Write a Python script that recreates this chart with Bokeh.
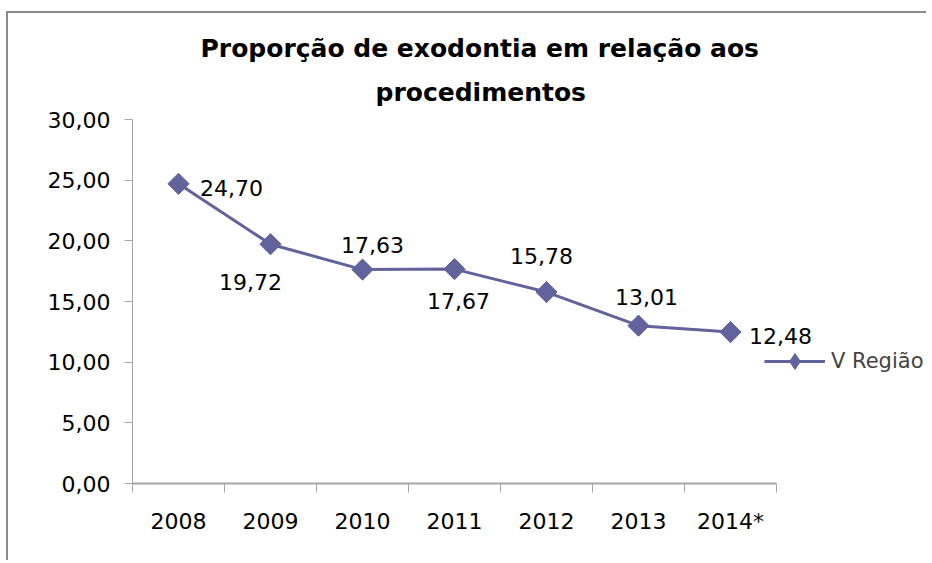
import math
from bokeh.plotting import figure
from bokeh.models import (FixedTicker, Range1d, Title, Legend, LegendItem,
                          ColumnDataSource, LabelSet)
from bokeh.core.properties import value
from bokeh.embed import file_html
from bokeh.resources import INLINE

# ---- data ----
categories = ["2008", "2009", "2010", "2011", "2012", "2013", "2014*"]
values = [24.70, 19.72, 17.63, 17.67, 15.78, 13.01, 12.48]
value_labels = ["24,70", "19,72", "17,63", "17,67", "15,78", "13,01", "12,48"]
y_ticks = [0, 5, 10, 15, 20, 25, 30]
y_tick_labels = ["0,00", "5,00", "10,00", "15,00", "20,00", "25,00", "30,00"]
series_name = "V Região"
title_line1 = "Proporção de exodontia em relação aos"
title_line2 = "procedimentos"

# ---- styles / layout ----
LINE_COLOR = "#62629C"
AXIS_COLOR = "#a6a6a6"
FONT = "DejaVu Sans"
FIG_W, FIG_H = 920, 549
BORDER_L, BORDER_T, BORDER_B = 124, 106, 79
AXIS_PX = 644                      # pixel length of the category axis
FRAME_PX = FIG_W - BORDER_L        # frame reaches the right edge (room for legend/labels)
# label offsets (screen px) of each label centre from its point; dy positive = down
label_dx = [53, -20, 10, 4, -5, 8, 50]
label_dy = [4, 38, -25, 32, -36, -29, 4]

n = len(categories)
xs = [i + 0.5 for i in range(n)]

p = figure(width=FIG_W, height=FIG_H, output_backend="svg", toolbar_location=None,
           x_range=Range1d(0, n * FRAME_PX / AXIS_PX), y_range=Range1d(0, 30),
           min_border_left=BORDER_L, min_border_right=0, min_border_top=BORDER_T,
           min_border_bottom=BORDER_B)
p.styles = {"border-top": "2px solid #8c8c8c", "border-left": "2px solid #8c8c8c",
            "margin-top": "11px", "margin-left": "6px"}
p.outline_line_color = None
p.grid.grid_line_color = None
p.background_fill_color = "white"
p.border_fill_color = "white"

# titles (line nearest to plot added first)
p.title = None
t2 = Title(text=title_line2, align="left", text_font=FONT, text_font_size="25px",
           text_font_style="bold", text_color="black", offset=243, standoff=26)
t1 = Title(text=title_line1, align="left", text_font=FONT, text_font_size="25px",
           text_font_style="bold", text_color="black", offset=68, standoff=0)
p.add_layout(t2, "above")
p.add_layout(t1, "above")

src = ColumnDataSource(dict(x=xs, y=values, lab=value_labels, dx=label_dx,
                            dy=[-d for d in label_dy]))

line_r = p.line("x", "y", source=src, line_color=LINE_COLOR, line_width=3)
mark_r = p.scatter("x", "y", source=src, marker="square", size=15, angle=math.pi / 4,
                   fill_color=LINE_COLOR, line_color=LINE_COLOR)
# marker used only for the legend swatch (size 0 in the plot; legend sizes it itself)
legend_mark = p.scatter("x", "y", source=src, marker="diamond", size=0,
                        fill_color=LINE_COLOR, line_color=LINE_COLOR)

labels = LabelSet(x="x", y="y", text="lab", source=src, x_offset="dx", y_offset="dy",
                  text_align="center", text_baseline="middle", text_font=value(FONT),
                  text_font_size="22px", text_color="black")
p.add_layout(labels)

# x axis: labels at centres, ticks at category boundaries
xa = p.xaxis[0]
xa.bounds = (0, n)
xa.ticker = FixedTicker(ticks=xs, minor_ticks=list(range(n + 1)))
xa.major_label_overrides = {x: c for x, c in zip(xs, categories)}
xa.major_tick_line_color = None
xa.minor_tick_line_color = AXIS_COLOR
xa.minor_tick_out = 9
xa.minor_tick_in = 0
xa.axis_line_color = AXIS_COLOR
xa.axis_line_width = 2
xa.major_label_text_font = FONT
xa.major_label_text_font_size = "22px"
xa.major_label_text_color = "black"
xa.major_label_standoff = 16

ya = p.yaxis[0]
ya.ticker = FixedTicker(ticks=y_ticks, minor_ticks=[])
ya.major_label_overrides = {t: l for t, l in zip(y_ticks, y_tick_labels)}
ya.axis_line_color = AXIS_COLOR
ya.major_tick_line_color = AXIS_COLOR
ya.major_tick_out = 8
ya.major_tick_in = 0
ya.major_label_text_font = FONT
ya.major_label_text_font_size = "22px"
ya.major_label_text_color = "black"
ya.major_label_standoff = 14

legend = Legend(items=[LegendItem(label=series_name, renderers=[line_r, legend_mark])],
                location=(632, 102), glyph_width=61, glyph_height=40,
                label_text_font=FONT, label_text_font_size="21px",
                label_standoff=6, padding=0, margin=0, spacing=0,
                border_line_color=None, background_fill_alpha=0)
p.add_layout(legend, "center")

open("out.html", "w").write(file_html(p, INLINE))
